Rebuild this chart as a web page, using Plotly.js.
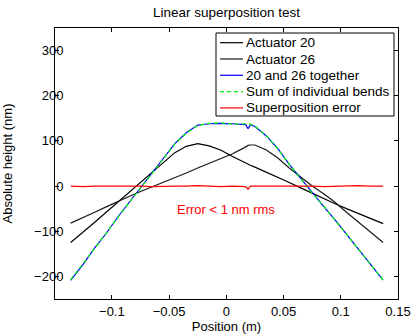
<!DOCTYPE html>
<html>
<head>
<meta charset="utf-8">
<script src="https://cdn.plot.ly/plotly-3.0.1.min.js"></script>
<style>
  html, body { margin: 0; padding: 0; background: #fff; }
  #plot { width: 415px; height: 334px; }
</style>
</head>
<body>
<div id="plot"></div>
<script>
// ─────────────────────────────────────────────────────
// Values (position in m, height in nm)
// ─────────────────────────────────────────────────────
const positions = [-0.136, -0.125, -0.115, -0.105, -0.095, -0.085, -0.075, -0.065, -0.055, -0.045,
                   -0.035, -0.025, -0.015, -0.005, 0.005, 0.015, 0.017, 0.019, 0.021, 0.025,
                   0.035, 0.045, 0.055, 0.065, 0.075, 0.085, 0.095, 0.105, 0.115, 0.125, 0.137];

const actuator20 = [-125, -102, -80, -58, -36, -14, 7, 29, 52, 74,
                    88, 94, 89, 80, 66, 53, 51, 49, 46, 42,
                    31, 20, 8, -4, -16, -27, -39, -50, -60, -70, -83];

const actuator26 = [-82, -70, -58, -46, -34, -23, -12, -2, 9, 19,
                    29, 40, 50, 60, 71, 84, 87, 90, 91, 91,
                    80, 62, 40, 20, 0, -17, -36, -58, -79, -100, -125];

const together = [-209, -173, -137, -105, -69, -36, -3, 28, 62, 94,
                  118, 135, 138, 139, 138, 137, 136, 127, 136, 132,
                  111, 83, 48, 17, -15, -45, -75, -107, -138, -171, -208];

const sumOfBends = [-207, -172, -138, -104, -70, -37, -5, 27, 61, 93,
                    117, 134, 139, 140, 137, 137, 138, 139, 137, 133,
                    111, 82, 48, 16, -16, -44, -75, -108, -139, -170, -208];

const superError = [0, -1, 0, 0, 1, 0, 0, -1, 0, 0,
                    0, 1, 0, -1, 0, 0, -1, -7, 0, 0,
                    0, 1, 0, 0, 0, -1, 0, 0, 1, 0, 0];

const seriesNames = ['Actuator 20', 'Actuator 26', '20 and 26 together',
                     'Sum of individual bends', 'Superposition error'];

const xTicks = [-0.1, -0.05, 0, 0.05, 0.1, 0.15];
const xTickText = ['\u22120.1', '\u22120.05', '0', '0.05', '0.1', '0.15'];
const yTicks = [-200, -100, 0, 100, 200, 300];
const yTickText = ['\u2212200', '\u2212100', '0', '100', '200', '300'];

const FONT = 'Liberation Sans, Arial, sans-serif';
const colors = ['#000000', '#1a1a1a', '#0000ff', '#00ff00', '#ff0000'];
const dashes = ['solid', 'solid', 'solid', '4px,3px', 'solid'];

// plot box in pixels (matches margins below)
const M = { l: 55, r: 17, t: 28, b: 35 };
const PW = 415 - M.l - M.r, PH = 334 - M.t - M.b;
const px = v => (v - M.l) / PW;
const py = v => (334 - M.b - v) / PH;

const traces = [actuator20, actuator26, together, sumOfBends, superError].map((y, i) => ({
    x: positions,
    y: y,
    mode: 'lines',
    name: seriesNames[i],
    line: { color: colors[i], width: 1.2, dash: dashes[i] },
}));

// MATLAB-style legend box (Plotly's own legend rows are too tall here)
const legendShapes = [{
    type: 'rect', xref: 'paper', yref: 'paper',
    x0: px(216), x1: px(394), y0: py(116), y1: py(33),
    line: { color: '#000', width: 1 }, fillcolor: '#fff',
}];
const legendNotes = [];
seriesNames.forEach((name, i) => {
    const rowY = 42.7 + i * 16.3;
    legendShapes.push({
        type: 'line', xref: 'paper', yref: 'paper',
        x0: px(220), x1: px(243), y0: py(rowY), y1: py(rowY),
        line: { color: colors[i], width: 1.2, dash: dashes[i] },
    });
    legendNotes.push({
        xref: 'paper', yref: 'paper', x: px(244), y: py(rowY),
        xanchor: 'left', yanchor: 'middle', showarrow: false,
        text: name, font: { family: FONT, size: 13.5, color: '#000' },
    });
});

const axisStyle = {
    showgrid: false,
    zeroline: false,
    showline: true,
    linecolor: '#000',
    linewidth: 1,
    mirror: 'ticks',
    ticks: 'inside',
    ticklen: 4,
    tickcolor: '#000',
    tickfont: { family: FONT, size: 13, color: '#000' },
};

const layout = {
    width: 415,
    height: 334,
    margin: M,
    paper_bgcolor: '#fff',
    plot_bgcolor: '#fff',
    font: { family: FONT, size: 13, color: '#000' },
    showlegend: false,
    title: {
        text: 'Linear superposition test',
        font: { family: FONT, size: 13.5, color: '#000' },
        xref: 'paper', x: 0.5, xanchor: 'center',
        yref: 'container', y: 1 - 12 / 334, yanchor: 'middle',
    },
    xaxis: Object.assign({}, axisStyle, {
        range: [-0.1497, 0.15],
        tickvals: xTicks,
        ticktext: xTickText,
        title: { text: 'Position (m)', font: { family: FONT, size: 13 }, standoff: 0 },
    }),
    yaxis: Object.assign({}, axisStyle, {
        range: [-250, 350],
        tickvals: yTicks,
        ticktext: yTickText,
        ticklabelstandoff: -12,
        title: { text: 'Absolute height (nm)', font: { family: FONT, size: 13 }, standoff: 18 },
    }),
    shapes: legendShapes,
    annotations: [{
        x: 0, y: -51, xref: 'x', yref: 'y',
        text: 'Error &lt; 1 nm rms',
        showarrow: false,
        font: { family: FONT, size: 13, color: '#ff0000' },
    }].concat(legendNotes),
};

Plotly.newPlot('plot', traces, layout, { staticPlot: true, displayModeBar: false });
</script>
</body>
</html>
